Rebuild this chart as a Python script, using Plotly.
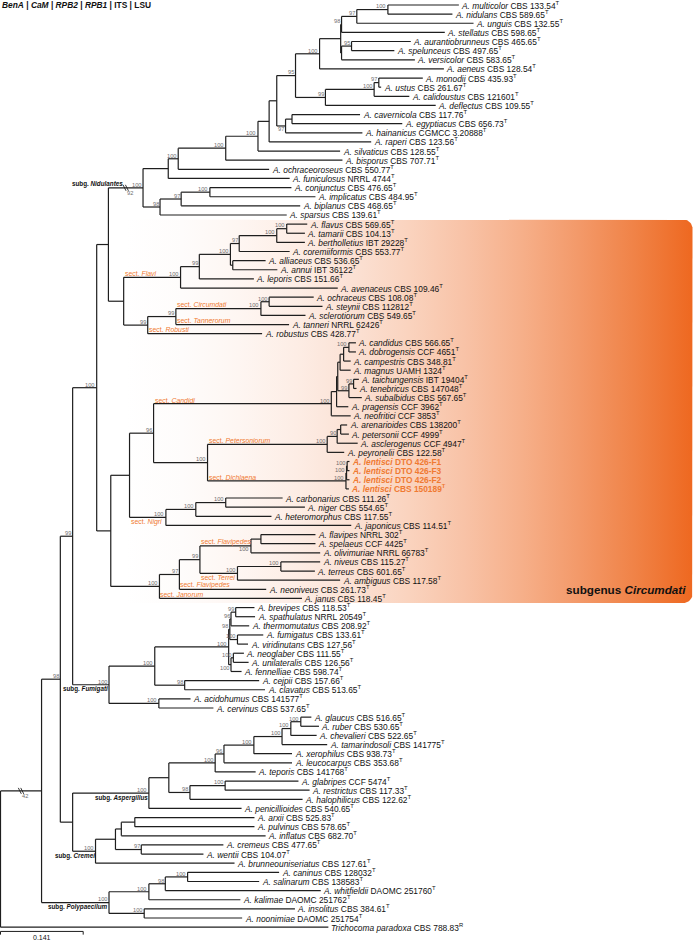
import re
import numpy as np
import plotly.graph_objects as go

# ---------------- data ----------------
taxa = ["A. multicolor","A. nidulans","A. unguis","A. stellatus","A. aurantiobrunneus","A. spelunceus",
        "A. versicolor","A. aeneus","A. monodii","A. ustus","A. calidoustus","A. deflectus","A. cavernicola",
        "A. egyptiacus","A. hainanicus","A. raperi","A. silvaticus","A. bisporus","A. ochraceoroseus",
        "A. funiculosus","A. conjunctus","A. implicatus","A. biplanus","A. sparsus","A. flavus","A. tamarii",
        "A. bertholletius","A. coremiiformis","A. alliaceus","A. annui","A. leporis","A. avenaceus",
        "A. ochraceus","A. steynii","A. sclerotiorum","A. tanneri","A. robustus","A. candidus",
        "A. dobrogensis","A. campestris","A. magnus","A. taichungensis","A. tenebricus","A. subalbidus",
        "A. pragensis","A. neofritici","A. arenarioides","A. petersonii","A. asclerogenus","A. peyronelii",
        "A. lentisci","A. lentisci","A. lentisci","A. lentisci","A. carbonarius","A. niger",
        "A. heteromorphus","A. japonicus","A. flavipes","A. spelaeus","A. olivimuriae","A. niveus",
        "A. terreus","A. ambiguus","A. neoniveus","A. janus","A. brevipes","A. spathulatus",
        "A. thermomutatus","A. fumigatus","A. viridinutans","A. neoglaber","A. unilateralis","A. fennelliae",
        "A. cejpii","A. clavatus","A. acidohumus","A. cervinus","A. glaucus","A. ruber","A. chevalieri",
        "A. tamarindosoli","A. xerophilus","A. leucocarpus","A. teporis","A. glabripes","A. restrictus",
        "A. halophilicus","A. penicillioides","A. arxii","A. pulvinus","A. inflatus","A. cremeus","A. wentii",
        "A. brunneouniseriatus","A. caninus","A. salinarum","A. whitfieldii","A. kalimae","A. insolitus",
        "A. noonimiae","Trichocoma paradoxa"]

strains = ["CBS 133.54","CBS 589.65","CBS 132.55","CBS 598.65","CBS 465.65","CBS 497.65","CBS 583.65",
           "CBS 128.54","CBS 435.93","CBS 261.67","CBS 121601","CBS 109.55","CBS 117.76","CBS 656.73",
           "CGMCC 3.20888","CBS 123.56","CBS 128.55","CBS 707.71","CBS 550.77","NRRL 4744","CBS 476.65",
           "CBS 484.95","CBS 468.65","CBS 139.61","CBS 569.65","CBS 104.13","IBT 29228","CBS 553.77",
           "CBS 536.65","IBT 36122","CBS 151.66","CBS 109.46","CBS 108.08","CBS 112812","CBS 549.65",
           "NRRL 62426","CBS 428.77","CBS 566.65","CCF 4651","CBS 348.81","UAMH 1324","IBT 19404",
           "CBS 147048","CBS 567.65","CCF 3962","CCF 3853","CBS 138200","CCF 4999","CCF 4947","CBS 122.58",
           "DTO 426-F1","DTO 426-F3","DTO 426-F2","CBS 150189","CBS 111.26","CBS 554.65","CBS 117.55",
           "CBS 114.51","NRRL 302","CCF 4425","NRRL 66783","CBS 115.27","CBS 601.65","CBS 117.58",
           "CBS 261.73","CBS 118.45","CBS 118.53","NRRL 20549","CBS 208.92","CBS 133.61","CBS 127.56",
           "CBS 111.55","CBS 126.56","CBS 598.74","CBS 157.66","CBS 513.65","CBS 141577","CBS 537.65",
           "CBS 516.65","CBS 530.65","CBS 522.65","CBS 141775","CBS 938.73","CBS 353.68","CBS 141768",
           "CCF 5474","CBS 117.33","CBS 122.62","CBS 540.65","CBS 525.83","CBS 578.65","CBS 682.70",
           "CBS 477.65","CBS 104.07","CBS 127.61","CBS 128032","CBS 138583","DAOMC 251760","DAOMC 251762",
           "CBS 384.61","DAOMC 251754","CBS 788.83"]

marks = ["T"] * 50 + ["", "", "", "T"] + ["T"] * 47 + ["R"]

new_species = ["lentisci_1", "lentisci_2", "lentisci_3", "lentisci_4"]


def C(a, b, lab=""):
    """Newick clade of two members ('child:length'); label = support@clade-name."""
    return "(" + a + "," + b + ")" + lab


# --- subg. Nidulantes (branch lengths in substitutions/site) ---
n_mn = C("multicolor:0.121", "nidulans:0.110", "100")
n_u = C(n_mn + ":0.053", "unguis:0.199", "97")
n_s = C(n_u + ":0.026", "stellatus:0.176", "98")
n_as = C("aurantiobrunneus:0.101", "spelunceus:0.073", "95")
n_v = C(n_as + ":0.017", "versicolor:0.125")
n_y = C(n_s + ":0.0015", n_v + ":0.0015")
n_x = C(n_y + ":0.036", "aeneus:0.212", "100")
n_mu = C("monodii:0.075", "ustus:0.004", "97")
n_c = C(n_mu + ":0.008", "calidoustus:0.060", "100")
n_d = C(n_c + ":0.083", "deflectus:0.188", "99")
n_95 = C(n_x + ":0.041", n_d + ":0.051", "95")
n_h = C(C("cavernicola:0.116", "egyptiacus:0.188") + ":0.011", "hainanicus:0.131", "97@Hainanici")
n_r = C(C(n_95 + ":0.032", n_h + ":0.015") + ":0.013", "raperi:0.174")
n_si = C(n_r + ":0.019", "silvaticus:0.140", "100")
n_b = C(n_si + ":0.055", "bisporus:0.199", "100")
n_oc = C(n_b + ":0.081", "ochraceoroseus:0.155", "100")
n_f = C(n_oc + ":0.017", "funiculosus:0.207")
n_sp = C(C(C("conjunctus:0.139", "implicatus:0.180", "100") + ":0.049", "biplanus:0.203", "97") + ":0.036",
         "sparsus:0.216", "98")
nidulantes = C(n_f + ":0.043", n_sp + ":0.029", "100@Nidulantes")

# --- subg. Circumdati ---
f1 = C("flavus:0.035", "tamarii:0.031", "100")
f2 = C(f1 + ":0.017", "bertholletius:0.048", "100")
f3 = C(f2 + ":0.064", "coremiiformis:0.086", "97")
f4 = C(f3 + ":0.015", C("alliaceus:0.056", "annui:0.076") + ":0.004", "100")
f5 = C(f4 + ":0.053", "leporis:0.093", "99")
flavi = C(f5 + ":0.032", "avenaceus:0.268", "100@Flavi")
circ = C(C("ochraceus:0.076", "steynii:0.091", "100") + ":0.014", "sclerotiorum:0.076", "100@Circumdati")
robusti = C(C(circ + ":0.145", "tanneri:0.193", "99") + ":0.048", "robustus:0.195", "99")
n82 = C(nidulantes + ":0.059", C(flavi + ":0.097", robusti + ":0.041") + ":0.026")

k3 = C(C(C("candidus:0.012", "dobrogensis:0.012", "100") + ":0.009", "campestris:0.012") + ":0.006", "magnus:0.018")
k4 = C(C("taichungensis:0.009", "tenebricus:0.005", "99") + ":0.008", "subalbidus:0.022", "99")
k6 = C(C(k3 + ":0.004", k4 + ":0.019") + ":0.002", "pragensis:0.020")
candidi = C(k6 + ":0.009", "neofritici:0.033", "100@Candidi")
petersoniorum = C(C(C("arenarioides:0.011", "petersonii:0.014") + ":0.006", "asclerogenus:0.035", "90") + ":0.017",
                  "peyronelii:0.029", "100@Petersoniorum")
dichlaena = C(C(C("lentisci_1:0.004", "lentisci_2:0.004", "100") + ":0.001", "lentisci_3:0.005", "100") + ":0.001",
              "lentisci_4:0.005", "100@Dichlaena")
n_96 = C(candidi + ":0.303", C(petersoniorum + ":0.204", dichlaena + ":0.236", "100") + ":0.092", "96")
nigri = C(C(C("carbonarius:0.097", "niger:0.135", "100") + ":0.051", "heteromorphus:0.129", "100") + ":0.051",
          "japonicus:0.316", "100@Nigri")
flavipedes = C(C(C("flavipes:0.093", "spelaeus:0.093") + ":0.017", "olivimuriae:0.118", "100@Flavipedes1") + ":0.087",
               C(C("niveus:0.067", "terreus:0.058", "100") + ":0.074", "ambiguus:0.175", "100@Terrei") + ":0.064",
               "99")
janorum = C(C(flavipedes + ":0.035", "neoniveus:0.148", "97") + ":0.034", "janus:0.243", "100")
n83 = C(C(n_96 + ":0.041", nigri + ":0.062") + ":0.032", janorum + ":0.083")
n73 = C(n82 + ":0.020", n83 + ":0.024", "100")

# --- subg. Fumigati ---
u1 = C(C(C("brevipes:0.032", "spathulatus:0.033", "99") + ":0.008", "thermomutatus:0.031", "96") + ":0.002",
       C("fumigatus:0.044", "viridinutans:0.018", "100") + ":0.013", "98")
u2 = C(C("neoglaber:0.018", "unilateralis:0.026", "100") + ":0.004", "fennelliae:0.018", "100@Fennelliae")
u4 = C(C(u1 + ":0.002", u2 + ":0.004", "100") + ":0.126", C("cejpii:0.127", "clavatus:0.137", "98") + ":0.051", "100")
fumigati = C(u4 + ":0.078", C("acidohumus:0.054", "cervinus:0.093", "100") + ":0.085", "100@Fumigati")
n99 = C(n73 + ":0.041", fumigati + ":0.062", "99")

# --- subg. Aspergillus / Cremei ---
g3 = C(C(C("glaucus:0.018", "ruber:0.031", "100") + ":0.017", "chevalieri:0.044", "100") + ":0.015",
       "tamarindosoli:0.077", "100")
g6 = C(C(C(g3 + ":0.048", "xerophilus:0.065", "100") + ":0.051", "leucocarpus:0.116", "96") + ":0.015",
       "teporis:0.069", "100")
g7 = C(C("glabripes:0.125", "restrictus:0.144", "100") + ":0.060", "halophilicus:0.192", "98")
aspergillus = C(C(g6 + ":0.079", g7 + ":0.036") + ":0.034", "penicillioides:0.158", "100@Aspergillus")
cremei = C(C(C(C("arxii:0.204", "pulvinus:0.204") + ":0.023", "inflatus:0.246") + ":0.010",
             C("cremeus:0.140", "wentii:0.106", "97") + ":0.044") + ":0.034",
           "brunneouniseriatus:0.237", "100@Cremei")
n45 = C(n99 + ":0.021", C(aspergillus + ":0.130", cremei + ":0.039") + ":0.021", "98")

# --- subg. Polypaecilum, outgroup ---
polypaecilum = C(C(C(C("caninus:0.156", "salinarum:0.122", "100") + ":0.038", "whitfieldii:0.265", "98") + ":0.028",
                   "kalimae:0.156", "100") + ":0.068",
                 C("insolitus:0.257", "noonimiae:0.167", "100") + ":0.060", "100@Polypaecilum")
ingroup = C(n45 + ":0.032", polypaecilum + ":0.115", "@ingroup")
newick = C(ingroup + ":0.070", "paradoxa:0.559") + ";"

section_labels = {"Flavi": "Flavi", "Circumdati": "Circumdati", "tanneri": "Tannerorum", "robustus": "Robusti",
                  "Candidi": "Candidi", "Petersoniorum": "Petersoniorum", "Dichlaena": "Dichlaena",
                  "Nigri": "Nigri", "Flavipedes1": "Flavipedes", "Terrei": "Terrei",
                  "neoniveus": "Flavipedes", "janus": "Janorum"}
sections_below = ["Nigri", "Terrei"]
support_below = ["Flavipedes1", "Hainanici", "Fennelliae"]
subgenera = ["Nidulantes", "Fumigati", "Aspergillus", "Cremei", "Polypaecilum"]
stem_breaks = {"Nidulantes": "92", "ingroup": "42"}
highlight = ("flavus", "janus", "Circumdati")
genes = ["BenA", "CaM", "RPB2", "RPB1", "ITS", "LSU"]
italic_genes = ["BenA", "CaM", "RPB2", "RPB1"]
scale_value = 0.141

# ---------------- build ids ----------------
ids, seen = [], {}
for t in taxa:
    b = t.split()[-1]
    if taxa.count(t) > 1:
        seen[b] = seen.get(b, 0) + 1
        b = f"{b}_{seen[b]}"
    ids.append(b)
info = {i: (t, s, m) for i, t, s, m in zip(ids, taxa, strains, marks)}


# ---------------- newick parsing ----------------
def parse_newick(s):
    pos = 0

    def node():
        nonlocal pos
        n = {"children": [], "label": "", "length": 0.0}
        if s[pos] == "(":
            pos += 1
            while True:
                n["children"].append(node())
                ch = s[pos]
                pos += 1
                if ch == ")":
                    break
        m = re.match(r"[^:,();]*", s[pos:])
        n["label"] = m.group(0)
        pos += len(n["label"])
        if s[pos] == ":":
            pos += 1
            m = re.match(r"[-0-9.eE]+", s[pos:])
            n["length"] = float(m.group(0))
            pos += len(m.group(0))
        return n

    return node()


root = parse_newick(newick)
leaves, nodes = [], []


def layout(n, x0, parent):
    n["x"] = x0 + n["length"]
    n["parent"] = parent
    nodes.append(n)
    if n["children"]:
        sup, _, name = n["label"].partition("@")
        n["support"], n["name"] = sup, name
        for ch in n["children"]:
            layout(ch, n["x"], n)
        n["y"] = (n["children"][0]["y"] + n["children"][-1]["y"]) / 2
    else:
        n["support"], n["name"] = "", n["label"]
        n["y"] = len(leaves)
        leaves.append(n)


layout(root, 0.0, None)
byname = {n["name"]: n for n in nodes if n["name"]}
leaf_names = [l["name"] for l in leaves]

# ---------------- geometry helpers ----------------
W, H = 693, 940
XU = scale_value / 82.7          # data units per pixel (x)
LEAF_PX, TOP_PX = 9.13, 5.0
YU = 1.0 / LEAF_PX               # leaf units per pixel (y)
x_range = [-0.5 * XU, -0.5 * XU + W * XU]
y_range = [(H - TOP_PX) * YU, -TOP_PX * YU]

FONT = "Liberation Sans, Arial, sans-serif"
ORANGE = "#F07A32"
LINE = "#1e1e1e"

fig = go.Figure()

# highlight box with gradient
i0, i1 = leaf_names.index(highlight[0]), leaf_names.index(highlight[1])
ytop, ybot = i0 - 0.5, i1 + 0.5
xl = x_range[0] + 126 * XU
xr = x_range[1] - 0.5 * XU
rx, ry = 9 * XU, 9 * YU
t1 = np.linspace(-np.pi / 2, 0, 12)
t2 = np.linspace(0, np.pi / 2, 12)
bx = [xl] + list(xr - rx + rx * np.cos(t1)) + list(xr - rx + rx * np.cos(t2)) + [xl, xl]
by = [ytop] + list(ytop + ry + ry * np.sin(t1)) + list(ybot - ry + ry * np.sin(t2)) + [ybot, ytop]
c0, c1 = np.array([255, 255, 255]), np.array([238, 104, 32])
stops = np.linspace(0, 1, 11)
cscale = [[float(f), "rgb({},{},{})".format(*[int(v) for v in (c0 + (c1 - c0) * f ** 1.8)])] for f in stops]
fig.add_trace(go.Scatter(x=bx, y=by, mode="lines", fill="toself", line=dict(width=0),
                         fillgradient=dict(type="horizontal", colorscale=cscale), hoverinfo="skip"))

# branches
lx, ly = [], []
for n in nodes:
    if n["parent"] is not None:
        lx += [n["parent"]["x"], n["x"], None]
        ly += [n["y"], n["y"], None]
    if n["children"]:
        lx += [n["x"], n["x"], None]
        ly += [n["children"][0]["y"], n["children"][-1]["y"], None]
fig.add_trace(go.Scatter(x=lx, y=ly, mode="lines", line=dict(color=LINE, width=1.2), hoverinfo="skip"))

ann = []
# tip labels
for l in leaves:
    t, s, m = info[l["name"]]
    sup = f"<sup>{m}</sup>" if m else ""
    if l["name"] in new_species:
        txt = f"<b><i>{t}</i> {s}{sup}</b>"
        col = ORANGE
    else:
        txt = f"<i>{t}</i> {s}{sup}"
        col = "#111111"
    ann.append(dict(x=l["x"], y=l["y"], text=txt, xanchor="left", yanchor="middle", xshift=0.5,
                    showarrow=False, font=dict(family=FONT, size=8.4, color=col)))

# support values
for n in nodes:
    if n["children"] and n["support"]:
        below = n["name"] in support_below
        ann.append(dict(x=n["x"], y=n["y"], text=n["support"], xanchor="right",
                        yanchor="top" if below else "bottom",
                        xshift=0.5, yshift=1.5 if below else -1.8, showarrow=False,
                        font=dict(family=FONT, size=5.7, color="#6e6e6e")))

# section labels
for key, lab in section_labels.items():
    n = byname[key]
    below = key in sections_below
    ann.append(dict(x=n["parent"]["x"], y=n["y"], text=f"sect. <i>{lab}</i>", xanchor="left",
                    yanchor="top" if below else "bottom", yshift=1.5 if below else -1.8, xshift=-1,
                    showarrow=False, font=dict(family=FONT, size=6.9, color=ORANGE)))

# stem breaks
bxs, bys = [], []
for key, lab in stem_breaks.items():
    n = byname[key]
    xm = (n["parent"]["x"] + n["x"]) / 2
    for off in (-1.2, 1.2):
        bxs += [xm + (off - 1.5) * XU, xm + (off + 1.5) * XU, None]
        bys += [n["y"] - 3 * YU, n["y"] + 3 * YU, None]
    ann.append(dict(x=xm, y=n["y"], text=lab, xanchor="left", yanchor="top", yshift=0, xshift=-1,
                    showarrow=False, font=dict(family=FONT, size=5.7, color="#6e6e6e")))
fig.add_trace(go.Scatter(x=bxs, y=bys, mode="lines", line=dict(color=LINE, width=0.9), hoverinfo="skip"))

# subgenus labels
for key in subgenera:
    n = byname[key]
    if key in stem_breaks:
        xa = (n["parent"]["x"] + n["x"]) / 2 - 1 * XU
        ann.append(dict(x=xa, y=n["y"], text=f"<b>subg. <i>{key}</i></b>", xanchor="right", yanchor="bottom",
                        yshift=-2, showarrow=False, font=dict(family=FONT, size=6.3, color="#111111")))
    else:
        ann.append(dict(x=n["x"], y=n["y"], text=f"<b>subg. <i>{key}</i></b>", xanchor="right", yanchor="top",
                        yshift=1.5, xshift=1, showarrow=False, font=dict(family=FONT, size=6.3, color="#111111")))

# subgenus Circumdati box label
ann.append(dict(x=xr, y=ybot - 14 * YU, text=f"<b>subgenus <i>{highlight[2]}</i></b>", xanchor="right",
                yanchor="middle", xshift=-5, showarrow=False, font=dict(family=FONT, size=11.7, color="#111111")))

# header
hdr = " | ".join(f"<i>{g}</i>" if g in italic_genes else g for g in genes)
ann.append(dict(xref="paper", yref="paper", x=0, y=1, text=f"<b>{hdr}</b>", xanchor="left", yanchor="top",
                xshift=0, yshift=2.5, showarrow=False, font=dict(family=FONT, size=8.4, color="#111111")))

# scale bar
ysb = len(leaves) - 1 + 4.3 * YU
fig.add_trace(go.Scatter(x=[0, 0, None, 0, scale_value, None, scale_value, scale_value],
                         y=[ysb, ysb + 3.2 * YU, None, ysb, ysb, None, ysb, ysb + 3.2 * YU],
                         mode="lines", line=dict(color=LINE, width=1), hoverinfo="skip"))
ann.append(dict(x=scale_value / 2, y=ysb + 6.2 * YU, text=f"{scale_value}", xanchor="center", yanchor="middle",
                showarrow=False, font=dict(family=FONT, size=7, color="#111111")))

fig.update_layout(
    width=W, height=H, margin=dict(l=0, r=0, t=0, b=0),
    paper_bgcolor="white", plot_bgcolor="white", showlegend=False, hovermode=False,
    xaxis=dict(range=x_range, visible=False, fixedrange=True),
    yaxis=dict(range=y_range, visible=False, fixedrange=True),
    annotations=ann,
)
fig.write_html("out.html", config={"displayModeBar": False, "staticPlot": True},
               post_script="document.body.style.margin='0';document.body.style.overflow='hidden';")
